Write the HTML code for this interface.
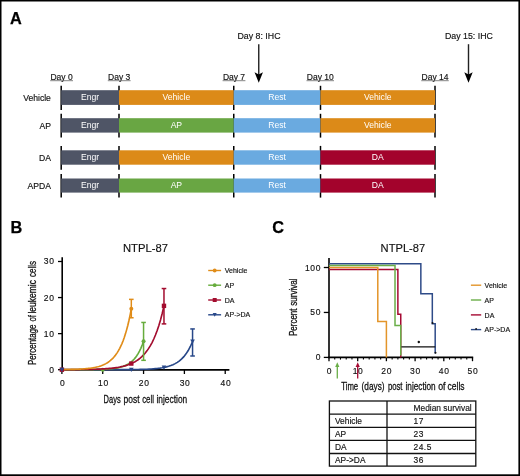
<!DOCTYPE html>
<html><head><meta charset="utf-8"><style>
html,body{margin:0;padding:0;background:#fff;}
svg{display:block;will-change:transform;}
text{font-family:"Liberation Sans", sans-serif;}
text.s{stroke:#111;stroke-width:0.15px;}
</style></head><body>
<svg width="520" height="476" viewBox="0 0 520 476" font-family='"Liberation Sans", sans-serif'>
<rect width="520" height="476" fill="#fff"/>
<text x="9.9" y="23.75" font-size="16.3" font-weight="bold" fill="#000" stroke="#000" stroke-width="0.25">A</text>
<line x1="61.2" y1="85.8" x2="61.2" y2="109.9" stroke="#000" stroke-width="1.5"/>
<line x1="119" y1="85.8" x2="119" y2="109.9" stroke="#000" stroke-width="1.5"/>
<line x1="233.75" y1="85.8" x2="233.75" y2="109.9" stroke="#000" stroke-width="1.5"/>
<line x1="320.5" y1="85.8" x2="320.5" y2="109.9" stroke="#000" stroke-width="1.5"/>
<line x1="435" y1="85.8" x2="435" y2="109.9" stroke="#000" stroke-width="1.5"/>
<rect x="61.2" y="90.2" width="57.8" height="14.700000000000003" fill="#4f5566"/>
<text x="90.1" y="100.45000000000002" font-size="8.6" fill="#fff" text-anchor="middle">Engr</text>
<rect x="119" y="90.2" width="114.75" height="14.700000000000003" fill="#dc8a18"/>
<text x="176.375" y="100.45000000000002" font-size="8.6" fill="#fff" text-anchor="middle">Vehicle</text>
<rect x="233.75" y="90.2" width="86.75" height="14.700000000000003" fill="#6aaae0"/>
<text x="277.125" y="100.45000000000002" font-size="8.6" fill="#fff" text-anchor="middle">Rest</text>
<rect x="320.5" y="90.2" width="114.5" height="14.700000000000003" fill="#dc8a18"/>
<text x="377.75" y="100.45000000000002" font-size="8.6" fill="#fff" text-anchor="middle">Vehicle</text>
<text x="50.9" y="100.65" font-size="8.6" fill="#111" class="s" text-anchor="end">Vehicle</text>
<line x1="61.2" y1="113.8" x2="61.2" y2="137.6" stroke="#000" stroke-width="1.5"/>
<line x1="119" y1="113.8" x2="119" y2="137.6" stroke="#000" stroke-width="1.5"/>
<line x1="233.75" y1="113.8" x2="233.75" y2="137.6" stroke="#000" stroke-width="1.5"/>
<line x1="320.5" y1="113.8" x2="320.5" y2="137.6" stroke="#000" stroke-width="1.5"/>
<line x1="435" y1="113.8" x2="435" y2="137.6" stroke="#000" stroke-width="1.5"/>
<rect x="61.2" y="118.2" width="57.8" height="14.399999999999991" fill="#4f5566"/>
<text x="90.1" y="128.3" font-size="8.6" fill="#fff" text-anchor="middle">Engr</text>
<rect x="119" y="118.2" width="114.75" height="14.399999999999991" fill="#69a643"/>
<text x="176.375" y="128.3" font-size="8.6" fill="#fff" text-anchor="middle">AP</text>
<rect x="233.75" y="118.2" width="86.75" height="14.399999999999991" fill="#6aaae0"/>
<text x="277.125" y="128.3" font-size="8.6" fill="#fff" text-anchor="middle">Rest</text>
<rect x="320.5" y="118.2" width="114.5" height="14.399999999999991" fill="#dc8a18"/>
<text x="377.75" y="128.3" font-size="8.6" fill="#fff" text-anchor="middle">Vehicle</text>
<text x="50.9" y="128.5" font-size="8.6" fill="#111" class="s" text-anchor="end">AP</text>
<line x1="61.2" y1="145.9" x2="61.2" y2="169.7" stroke="#000" stroke-width="1.5"/>
<line x1="119" y1="145.9" x2="119" y2="169.7" stroke="#000" stroke-width="1.5"/>
<line x1="233.75" y1="145.9" x2="233.75" y2="169.7" stroke="#000" stroke-width="1.5"/>
<line x1="320.5" y1="145.9" x2="320.5" y2="169.7" stroke="#000" stroke-width="1.5"/>
<line x1="435" y1="145.9" x2="435" y2="169.7" stroke="#000" stroke-width="1.5"/>
<rect x="61.2" y="150.3" width="57.8" height="14.399999999999977" fill="#4f5566"/>
<text x="90.1" y="160.4" font-size="8.6" fill="#fff" text-anchor="middle">Engr</text>
<rect x="119" y="150.3" width="114.75" height="14.399999999999977" fill="#dc8a18"/>
<text x="176.375" y="160.4" font-size="8.6" fill="#fff" text-anchor="middle">Vehicle</text>
<rect x="233.75" y="150.3" width="86.75" height="14.399999999999977" fill="#6aaae0"/>
<text x="277.125" y="160.4" font-size="8.6" fill="#fff" text-anchor="middle">Rest</text>
<rect x="320.5" y="150.3" width="114.5" height="14.399999999999977" fill="#a3032c"/>
<text x="377.75" y="160.4" font-size="8.6" fill="#fff" text-anchor="middle">DA</text>
<text x="50.9" y="160.6" font-size="8.6" fill="#111" class="s" text-anchor="end">DA</text>
<line x1="61.2" y1="174.1" x2="61.2" y2="197.6" stroke="#000" stroke-width="1.5"/>
<line x1="119" y1="174.1" x2="119" y2="197.6" stroke="#000" stroke-width="1.5"/>
<line x1="233.75" y1="174.1" x2="233.75" y2="197.6" stroke="#000" stroke-width="1.5"/>
<line x1="320.5" y1="174.1" x2="320.5" y2="197.6" stroke="#000" stroke-width="1.5"/>
<line x1="435" y1="174.1" x2="435" y2="197.6" stroke="#000" stroke-width="1.5"/>
<rect x="61.2" y="178.5" width="57.8" height="14.099999999999994" fill="#4f5566"/>
<text x="90.1" y="188.45000000000002" font-size="8.6" fill="#fff" text-anchor="middle">Engr</text>
<rect x="119" y="178.5" width="114.75" height="14.099999999999994" fill="#69a643"/>
<text x="176.375" y="188.45000000000002" font-size="8.6" fill="#fff" text-anchor="middle">AP</text>
<rect x="233.75" y="178.5" width="86.75" height="14.099999999999994" fill="#6aaae0"/>
<text x="277.125" y="188.45000000000002" font-size="8.6" fill="#fff" text-anchor="middle">Rest</text>
<rect x="320.5" y="178.5" width="114.5" height="14.099999999999994" fill="#a3032c"/>
<text x="377.75" y="188.45000000000002" font-size="8.6" fill="#fff" text-anchor="middle">DA</text>
<text x="50.9" y="188.65" font-size="8.6" fill="#111" class="s" text-anchor="end">APDA</text>
<text x="61.6" y="80" font-size="8.5" fill="#111" class="s" text-anchor="middle">Day 0</text>
<line x1="50.2" y1="80.7" x2="73.0" y2="80.7" stroke="#666" stroke-width="0.8"/>
<text x="119.2" y="80" font-size="8.5" fill="#111" class="s" text-anchor="middle">Day 3</text>
<line x1="107.80000000000001" y1="80.7" x2="130.60000000000002" y2="80.7" stroke="#666" stroke-width="0.8"/>
<text x="234" y="80" font-size="8.5" fill="#111" class="s" text-anchor="middle">Day 7</text>
<line x1="222.6" y1="80.7" x2="245.4" y2="80.7" stroke="#666" stroke-width="0.8"/>
<text x="320.25" y="80" font-size="8.5" fill="#111" class="s" text-anchor="middle">Day 10</text>
<line x1="306.5" y1="80.7" x2="334.0" y2="80.7" stroke="#666" stroke-width="0.8"/>
<text x="435" y="80" font-size="8.5" fill="#111" class="s" text-anchor="middle">Day 14</text>
<line x1="421.25" y1="80.7" x2="448.75" y2="80.7" stroke="#666" stroke-width="0.8"/>
<text x="259" y="38.8" font-size="8.8" fill="#111" class="s" text-anchor="middle">Day 8: IHC</text>
<text x="468.9" y="38.8" font-size="8.8" fill="#111" class="s" text-anchor="middle">Day 15: IHC</text>
<line x1="258.75" y1="44.2" x2="258.75" y2="76" stroke="#222" stroke-width="1.4"/>
<path d="M254.55,72.3 L258.75,74.6 L262.95,72.3 L258.75,82.8 Z" fill="#000"/>
<line x1="468.5" y1="44.2" x2="468.5" y2="76" stroke="#222" stroke-width="1.4"/>
<path d="M464.3,72.3 L468.5,74.6 L472.7,72.3 L468.5,82.8 Z" fill="#000"/>
<text x="10.4" y="232.8" font-size="16.3" font-weight="bold" fill="#000" stroke="#000" stroke-width="0.25">B</text>
<text x="145.5" y="251.5" font-size="11.5" fill="#111" class="s" text-anchor="middle" textLength="45" lengthAdjust="spacingAndGlyphs">NTPL-87</text>
<line x1="62.2" y1="257.2" x2="62.2" y2="370.5" stroke="#000" stroke-width="1.6"/>
<line x1="61.4" y1="369.9" x2="229.4" y2="369.9" stroke="#000" stroke-width="1.6"/>
<line x1="58" y1="369.7" x2="62.2" y2="369.7" stroke="#000" stroke-width="1.3"/>
<text x="54.6" y="372.7" font-size="8.5" letter-spacing="0.7" fill="#111" class="s" text-anchor="end">0</text>
<line x1="58" y1="333.63" x2="62.2" y2="333.63" stroke="#000" stroke-width="1.3"/>
<text x="54.6" y="336.63" font-size="8.5" letter-spacing="0.7" fill="#111" class="s" text-anchor="end">10</text>
<line x1="58" y1="297.56" x2="62.2" y2="297.56" stroke="#000" stroke-width="1.3"/>
<text x="54.6" y="300.56" font-size="8.5" letter-spacing="0.7" fill="#111" class="s" text-anchor="end">20</text>
<line x1="58" y1="261.49" x2="62.2" y2="261.49" stroke="#000" stroke-width="1.3"/>
<text x="54.6" y="264.49" font-size="8.5" letter-spacing="0.7" fill="#111" class="s" text-anchor="end">30</text>
<line x1="61.9" y1="369.9" x2="61.9" y2="374" stroke="#000" stroke-width="1.3"/>
<text x="62.6" y="385.8" font-size="8.5" letter-spacing="0.7" fill="#111" class="s" text-anchor="middle">0</text>
<line x1="102.72999999999999" y1="369.9" x2="102.72999999999999" y2="374" stroke="#000" stroke-width="1.3"/>
<text x="103.42999999999999" y="385.8" font-size="8.5" letter-spacing="0.7" fill="#111" class="s" text-anchor="middle">10</text>
<line x1="143.56" y1="369.9" x2="143.56" y2="374" stroke="#000" stroke-width="1.3"/>
<text x="144.26" y="385.8" font-size="8.5" letter-spacing="0.7" fill="#111" class="s" text-anchor="middle">20</text>
<line x1="184.39000000000001" y1="369.9" x2="184.39000000000001" y2="374" stroke="#000" stroke-width="1.3"/>
<text x="185.09" y="385.8" font-size="8.5" letter-spacing="0.7" fill="#111" class="s" text-anchor="middle">30</text>
<line x1="225.22" y1="369.9" x2="225.22" y2="374" stroke="#000" stroke-width="1.3"/>
<text x="225.92" y="385.8" font-size="8.5" letter-spacing="0.7" fill="#111" class="s" text-anchor="middle">40</text>
<text x="103.60000000000001" y="402.7" font-size="11.8" fill="#111" stroke="#111" stroke-width="0.3" textLength="17.10" lengthAdjust="spacingAndGlyphs">Days</text>
<text x="123.5" y="402.7" font-size="11.8" fill="#111" stroke="#111" stroke-width="0.3" textLength="16.00" lengthAdjust="spacingAndGlyphs">post</text>
<text x="142.2" y="402.7" font-size="11.8" fill="#111" stroke="#111" stroke-width="0.3" textLength="11.80" lengthAdjust="spacingAndGlyphs">cell</text>
<text x="156.5" y="402.7" font-size="11.8" fill="#111" stroke="#111" stroke-width="0.3" textLength="30.70" lengthAdjust="spacingAndGlyphs">injection</text>
<text transform="translate(35.8,365.0) rotate(-90)" x="0" y="0" font-size="11.3" fill="#111" stroke="#111" stroke-width="0.3" textLength="40.50" lengthAdjust="spacingAndGlyphs">Percentage</text>
<text transform="translate(35.8,321.5) rotate(-90)" x="0" y="0" font-size="11.3" fill="#111" stroke="#111" stroke-width="0.3" textLength="6.40" lengthAdjust="spacingAndGlyphs">of</text>
<text transform="translate(35.8,313.6) rotate(-90)" x="0" y="0" font-size="11.3" fill="#111" stroke="#111" stroke-width="0.3" textLength="33.60" lengthAdjust="spacingAndGlyphs">leukemic</text>
<text transform="translate(35.8,277.0) rotate(-90)" x="0" y="0" font-size="11.3" fill="#111" stroke="#111" stroke-width="0.3" textLength="16.00" lengthAdjust="spacingAndGlyphs">cells</text>
<path d="M61.90,369.70 L64.08,369.70 L66.26,369.70 L68.43,369.70 L70.61,369.70 L72.79,369.70 L74.97,369.70 L77.14,369.70 L79.32,369.70 L81.50,369.70 L83.68,369.70 L85.85,369.70 L88.03,369.70 L90.21,369.70 L92.39,369.70 L94.56,369.70 L96.74,369.69 L98.92,369.69 L101.10,369.69 L103.27,369.69 L105.45,369.69 L107.63,369.68 L109.81,369.68 L111.98,369.68 L114.16,369.67 L116.34,369.67 L118.52,369.66 L120.70,369.65 L122.87,369.64 L125.05,369.63 L127.23,369.61 L129.41,369.59 L131.58,369.57 L133.76,369.54 L135.94,369.51 L138.12,369.47 L140.29,369.42 L142.47,369.36 L144.65,369.29 L146.83,369.20 L149.00,369.10 L151.18,368.97 L153.36,368.81 L155.54,368.62 L157.71,368.40 L159.89,368.12 L162.07,367.79 L164.25,367.38 L166.42,366.89 L168.60,366.30 L170.78,365.58 L172.96,364.70 L175.14,363.64 L177.31,362.36 L179.49,360.81 L181.67,358.93 L183.85,356.65 L186.02,353.88 L188.20,350.54 L190.38,346.48 L192.56,341.57" fill="none" stroke="#284889" stroke-width="1.65"/>
<path d="M61.90,369.69 L63.26,369.69 L64.62,369.69 L65.98,369.69 L67.34,369.69 L68.70,369.69 L70.07,369.69 L71.43,369.69 L72.79,369.68 L74.15,369.68 L75.51,369.68 L76.87,369.67 L78.23,369.67 L79.59,369.67 L80.95,369.66 L82.31,369.65 L83.68,369.65 L85.04,369.64 L86.40,369.63 L87.76,369.62 L89.12,369.61 L90.48,369.59 L91.84,369.58 L93.20,369.56 L94.56,369.54 L95.93,369.51 L97.29,369.48 L98.65,369.45 L100.01,369.41 L101.37,369.36 L102.73,369.31 L104.09,369.25 L105.45,369.19 L106.81,369.11 L108.17,369.01 L109.53,368.91 L110.90,368.79 L112.26,368.65 L113.62,368.48 L114.98,368.30 L116.34,368.08 L117.70,367.83 L119.06,367.54 L120.42,367.21 L121.78,366.82 L123.15,366.38 L124.51,365.87 L125.87,365.28 L127.23,364.60 L128.59,363.81 L129.95,362.90 L131.31,361.86 L132.67,360.65 L134.03,359.25 L135.39,357.64 L136.75,355.78 L138.12,353.64 L139.48,351.16 L140.84,348.31 L142.20,345.01 L143.56,341.20" fill="none" stroke="#66ac3c" stroke-width="1.65"/>
<circle cx="102.72999999999999" cy="369.7" r="2" fill="#66ac3c"/>
<path d="M61.90,369.66 L63.60,369.65 L65.30,369.65 L67.00,369.64 L68.70,369.63 L70.41,369.62 L72.11,369.61 L73.81,369.60 L75.51,369.59 L77.21,369.57 L78.91,369.56 L80.61,369.54 L82.31,369.52 L84.02,369.49 L85.72,369.47 L87.42,369.44 L89.12,369.40 L90.82,369.36 L92.52,369.32 L94.22,369.27 L95.93,369.22 L97.63,369.15 L99.33,369.08 L101.03,369.00 L102.73,368.91 L104.43,368.81 L106.13,368.69 L107.83,368.56 L109.53,368.42 L111.24,368.25 L112.94,368.06 L114.64,367.85 L116.34,367.61 L118.04,367.34 L119.74,367.03 L121.44,366.68 L123.15,366.29 L124.85,365.85 L126.55,365.35 L128.25,364.78 L129.95,364.14 L131.65,363.42 L133.35,362.61 L135.05,361.69 L136.75,360.65 L138.46,359.47 L140.16,358.14 L141.86,356.64 L143.56,354.95 L145.26,353.03 L146.96,350.87 L148.66,348.42 L150.37,345.66 L152.07,342.54 L153.77,339.01 L155.47,335.02 L157.17,330.52 L158.87,325.44 L160.57,319.69 L162.27,313.19 L163.97,305.86" fill="none" stroke="#a30c2e" stroke-width="1.65"/>
<path d="M61.90,369.59 L63.06,369.57 L64.21,369.56 L65.37,369.55 L66.53,369.53 L67.68,369.51 L68.84,369.49 L70.00,369.46 L71.15,369.44 L72.31,369.41 L73.47,369.38 L74.63,369.34 L75.78,369.30 L76.94,369.26 L78.10,369.21 L79.25,369.16 L80.41,369.09 L81.57,369.03 L82.72,368.95 L83.88,368.87 L85.04,368.78 L86.19,368.68 L87.35,368.57 L88.51,368.44 L89.66,368.30 L90.82,368.15 L91.98,367.97 L93.13,367.78 L94.29,367.57 L95.45,367.34 L96.61,367.07 L97.76,366.78 L98.92,366.46 L100.08,366.10 L101.23,365.71 L102.39,365.27 L103.55,364.78 L104.70,364.23 L105.86,363.63 L107.02,362.96 L108.17,362.21 L109.33,361.38 L110.49,360.46 L111.64,359.44 L112.80,358.31 L113.96,357.05 L115.12,355.65 L116.27,354.10 L117.43,352.37 L118.59,350.46 L119.74,348.33 L120.90,345.97 L122.06,343.35 L123.21,340.44 L124.37,337.20 L125.53,333.61 L126.68,329.62 L127.84,325.19 L129.00,320.27 L130.15,314.81 L131.31,308.74" fill="none" stroke="#e08c18" stroke-width="1.65"/>
<line x1="192.556" y1="355.9934" x2="192.556" y2="328.9409" stroke="#284889" stroke-width="1.5"/><line x1="190.256" y1="355.9934" x2="194.85600000000002" y2="355.9934" stroke="#284889" stroke-width="1.5"/><line x1="190.256" y1="328.9409" x2="194.85600000000002" y2="328.9409" stroke="#284889" stroke-width="1.5"/>
<line x1="163.975" y1="323.8911" x2="163.975" y2="288.5425" stroke="#a30c2e" stroke-width="1.5"/><line x1="161.67499999999998" y1="323.8911" x2="166.275" y2="323.8911" stroke="#a30c2e" stroke-width="1.5"/><line x1="161.67499999999998" y1="288.5425" x2="166.275" y2="288.5425" stroke="#a30c2e" stroke-width="1.5"/>
<line x1="143.56" y1="360.3218" x2="143.56" y2="322.4483" stroke="#66ac3c" stroke-width="1.5"/><line x1="141.26" y1="360.3218" x2="145.86" y2="360.3218" stroke="#66ac3c" stroke-width="1.5"/><line x1="141.26" y1="322.4483" x2="145.86" y2="322.4483" stroke="#66ac3c" stroke-width="1.5"/>
<line x1="131.311" y1="317.75919999999996" x2="131.311" y2="299.3635" stroke="#e08c18" stroke-width="1.5"/><line x1="129.011" y1="317.75919999999996" x2="133.61100000000002" y2="317.75919999999996" stroke="#e08c18" stroke-width="1.5"/><line x1="129.011" y1="299.3635" x2="133.61100000000002" y2="299.3635" stroke="#e08c18" stroke-width="1.5"/>
<circle cx="131.311" cy="308.7417" r="2" fill="#e08c18"/>
<circle cx="143.56" cy="341.2047" r="2" fill="#66ac3c"/>
<rect x="59.699999999999996" y="367.5" width="4.4" height="4.4" fill="#a30c2e"/>
<rect x="129.11100000000002" y="361.3681" width="4.4" height="4.4" fill="#a30c2e"/>
<rect x="161.775" y="303.6561" width="4.4" height="4.4" fill="#a30c2e"/>
<path d="M59.6,367.7 L64.2,367.7 L61.9,371.9 Z" fill="#284889"/>
<path d="M129.011,367.7 L133.61100000000002,367.7 L131.311,371.9 Z" fill="#284889"/>
<path d="M161.67499999999998,365.42759 L166.275,365.42759 L163.975,369.62759 Z" fill="#284889"/>
<path d="M190.256,339.5654 L194.85600000000002,339.5654 L192.556,343.7654 Z" fill="#284889"/>
<line x1="208.2" y1="270.5" x2="221.1" y2="270.5" stroke="#e08c18" stroke-width="1.4"/>
<circle cx="214.7" cy="270.5" r="1.9" fill="#e08c18"/>
<text x="224.8" y="273.1" font-size="7" fill="#111" class="s">Vehicle</text>
<line x1="208.2" y1="285.2" x2="221.1" y2="285.2" stroke="#66ac3c" stroke-width="1.4"/>
<circle cx="214.7" cy="285.2" r="1.9" fill="#66ac3c"/>
<text x="224.8" y="287.8" font-size="7" fill="#111" class="s">AP</text>
<line x1="208.2" y1="300" x2="221.1" y2="300" stroke="#a30c2e" stroke-width="1.4"/>
<rect x="212.7" y="298" width="4" height="4" fill="#a30c2e"/>
<text x="224.8" y="302.6" font-size="7" fill="#111" class="s">DA</text>
<line x1="208.2" y1="314.8" x2="221.1" y2="314.8" stroke="#284889" stroke-width="1.4"/>
<path d="M212.7,313.0 L216.7,313.0 L214.7,316.8 Z" fill="#284889"/>
<text x="224.8" y="317.40000000000003" font-size="7" fill="#111" class="s">AP-&gt;DA</text>
<text x="272.3" y="232.8" font-size="16.3" font-weight="bold" fill="#000" stroke="#000" stroke-width="0.25">C</text>
<text x="402.9" y="251.5" font-size="11.5" fill="#111" class="s" text-anchor="middle" textLength="44.6" lengthAdjust="spacingAndGlyphs">NTPL-87</text>
<line x1="329" y1="257.9" x2="329" y2="358.2" stroke="#000" stroke-width="1.6"/>
<line x1="328.2" y1="357.4" x2="473.2" y2="357.4" stroke="#000" stroke-width="1.6"/>
<line x1="323.8" y1="357.4" x2="329" y2="357.4" stroke="#000" stroke-width="1.3"/>
<text x="321.2" y="360.4" font-size="8.5" letter-spacing="0.7" fill="#111" class="s" text-anchor="end">0</text>
<line x1="323.8" y1="312.45" x2="329" y2="312.45" stroke="#000" stroke-width="1.3"/>
<text x="321.2" y="315.45" font-size="8.5" letter-spacing="0.7" fill="#111" class="s" text-anchor="end">50</text>
<line x1="323.8" y1="267.5" x2="329" y2="267.5" stroke="#000" stroke-width="1.3"/>
<text x="321.2" y="270.5" font-size="8.5" letter-spacing="0.7" fill="#111" class="s" text-anchor="end">100</text>
<line x1="329.0" y1="357.4" x2="329.0" y2="361.2" stroke="#000" stroke-width="1.3"/>
<text x="329.4" y="374" font-size="8.5" letter-spacing="0.7" fill="#111" class="s" text-anchor="middle">0</text>
<line x1="334.74" y1="357.4" x2="334.74" y2="359.6" stroke="#000" stroke-width="1.1"/>
<line x1="340.48" y1="357.4" x2="340.48" y2="359.6" stroke="#000" stroke-width="1.1"/>
<line x1="346.22" y1="357.4" x2="346.22" y2="359.6" stroke="#000" stroke-width="1.1"/>
<line x1="351.96" y1="357.4" x2="351.96" y2="359.6" stroke="#000" stroke-width="1.1"/>
<line x1="357.7" y1="357.4" x2="357.7" y2="361.2" stroke="#000" stroke-width="1.3"/>
<text x="358.09999999999997" y="374" font-size="8.5" letter-spacing="0.7" fill="#111" class="s" text-anchor="middle">10</text>
<line x1="363.44" y1="357.4" x2="363.44" y2="359.6" stroke="#000" stroke-width="1.1"/>
<line x1="369.18" y1="357.4" x2="369.18" y2="359.6" stroke="#000" stroke-width="1.1"/>
<line x1="374.92" y1="357.4" x2="374.92" y2="359.6" stroke="#000" stroke-width="1.1"/>
<line x1="380.66" y1="357.4" x2="380.66" y2="359.6" stroke="#000" stroke-width="1.1"/>
<line x1="386.4" y1="357.4" x2="386.4" y2="361.2" stroke="#000" stroke-width="1.3"/>
<text x="386.79999999999995" y="374" font-size="8.5" letter-spacing="0.7" fill="#111" class="s" text-anchor="middle">20</text>
<line x1="392.14" y1="357.4" x2="392.14" y2="359.6" stroke="#000" stroke-width="1.1"/>
<line x1="397.88" y1="357.4" x2="397.88" y2="359.6" stroke="#000" stroke-width="1.1"/>
<line x1="403.62" y1="357.4" x2="403.62" y2="359.6" stroke="#000" stroke-width="1.1"/>
<line x1="409.36" y1="357.4" x2="409.36" y2="359.6" stroke="#000" stroke-width="1.1"/>
<line x1="415.1" y1="357.4" x2="415.1" y2="361.2" stroke="#000" stroke-width="1.3"/>
<text x="415.5" y="374" font-size="8.5" letter-spacing="0.7" fill="#111" class="s" text-anchor="middle">30</text>
<line x1="420.84000000000003" y1="357.4" x2="420.84000000000003" y2="359.6" stroke="#000" stroke-width="1.1"/>
<line x1="426.58" y1="357.4" x2="426.58" y2="359.6" stroke="#000" stroke-width="1.1"/>
<line x1="432.32" y1="357.4" x2="432.32" y2="359.6" stroke="#000" stroke-width="1.1"/>
<line x1="438.06" y1="357.4" x2="438.06" y2="359.6" stroke="#000" stroke-width="1.1"/>
<line x1="443.8" y1="357.4" x2="443.8" y2="361.2" stroke="#000" stroke-width="1.3"/>
<text x="444.2" y="374" font-size="8.5" letter-spacing="0.7" fill="#111" class="s" text-anchor="middle">40</text>
<line x1="449.54" y1="357.4" x2="449.54" y2="359.6" stroke="#000" stroke-width="1.1"/>
<line x1="455.28" y1="357.4" x2="455.28" y2="359.6" stroke="#000" stroke-width="1.1"/>
<line x1="461.02" y1="357.4" x2="461.02" y2="359.6" stroke="#000" stroke-width="1.1"/>
<line x1="466.76" y1="357.4" x2="466.76" y2="359.6" stroke="#000" stroke-width="1.1"/>
<line x1="472.5" y1="357.4" x2="472.5" y2="361.2" stroke="#000" stroke-width="1.3"/>
<text x="472.9" y="374" font-size="8.5" letter-spacing="0.7" fill="#111" class="s" text-anchor="middle">50</text>
<text x="341.2" y="390.3" font-size="11.6" fill="#111" stroke="#111" stroke-width="0.3" textLength="17.00" lengthAdjust="spacingAndGlyphs">Time</text>
<text x="361.59999999999997" y="390.3" font-size="11.6" fill="#111" stroke="#111" stroke-width="0.3" textLength="22.90" lengthAdjust="spacingAndGlyphs">(days)</text>
<text x="387.9" y="390.3" font-size="11.6" fill="#111" stroke="#111" stroke-width="0.3" textLength="14.60" lengthAdjust="spacingAndGlyphs">post</text>
<text x="405.5" y="390.3" font-size="11.6" fill="#111" stroke="#111" stroke-width="0.3" textLength="30.20" lengthAdjust="spacingAndGlyphs">injection</text>
<text x="438.2" y="390.3" font-size="11.6" fill="#111" stroke="#111" stroke-width="0.3" textLength="7.30" lengthAdjust="spacingAndGlyphs">of</text>
<text x="447.59999999999997" y="390.3" font-size="11.6" fill="#111" stroke="#111" stroke-width="0.3" textLength="17.00" lengthAdjust="spacingAndGlyphs">cells</text>
<text transform="translate(297.4,336.0) rotate(-90)" x="0" y="0" font-size="11.1" fill="#111" stroke="#111" stroke-width="0.3" textLength="27.50" lengthAdjust="spacingAndGlyphs">Percent</text>
<text transform="translate(297.4,305.8) rotate(-90)" x="0" y="0" font-size="11.1" fill="#111" stroke="#111" stroke-width="0.3" textLength="27.30" lengthAdjust="spacingAndGlyphs">survival</text>
<path d="M329.00,263.70 L420.84,263.70 L420.84,293.67 L432.32,293.67 L432.32,323.63 L435.19,323.63 L435.19,353.60" fill="none" stroke="#2e4b88" stroke-width="1.5"/>
<path d="M329.00,269.40 L397.88,269.40 L397.88,314.35 L400.75,314.35 L400.75,357.40" fill="none" stroke="#a50a33" stroke-width="1.5"/>
<path d="M329.00,265.60 L395.01,265.60 L395.01,325.53 L400.75,325.53 L400.75,355.50" fill="none" stroke="#6aae48" stroke-width="1.5"/>
<path d="M329.00,267.50 L377.79,267.50 L377.79,321.44 L386.40,321.44 L386.40,357.40" fill="none" stroke="#e3952a" stroke-width="1.5"/>
<line x1="401.4" y1="346.8" x2="435.3" y2="346.8" stroke="#111" stroke-width="1.3"/>
<circle cx="418.8" cy="342" r="1.2" fill="#111"/>
<circle cx="432.5" cy="322.9" r="1" fill="#111"/>
<circle cx="435.5" cy="352.8" r="1" fill="#111"/>
<line x1="337.3" y1="366" x2="337.3" y2="378.6" stroke="#6aae48" stroke-width="1.3"/>
<path d="M335.2,367 L339.40000000000003,367 L337.3,362.2 Z" fill="#6aae48"/>
<line x1="357.7" y1="366" x2="357.7" y2="378.6" stroke="#a50a33" stroke-width="1.3"/>
<path d="M355.59999999999997,367 L359.8,367 L357.7,362.2 Z" fill="#a50a33"/>
<line x1="470.9" y1="285.2" x2="481.2" y2="285.2" stroke="#e3952a" stroke-width="1.4"/>
<text x="484.6" y="287.9" font-size="7" fill="#111" class="s">Vehicle</text>
<line x1="470.9" y1="300" x2="481.2" y2="300" stroke="#6aae48" stroke-width="1.4"/>
<text x="484.6" y="302.7" font-size="7" fill="#111" class="s">AP</text>
<line x1="470.9" y1="314.9" x2="481.2" y2="314.9" stroke="#a50a33" stroke-width="1.4"/>
<text x="484.6" y="317.59999999999997" font-size="7" fill="#111" class="s">DA</text>
<line x1="470.9" y1="329.6" x2="481.2" y2="329.6" stroke="#2e4b88" stroke-width="1.4"/>
<text x="484.6" y="332.3" font-size="7" fill="#111" class="s">AP-&gt;DA</text>
<circle cx="476.1" cy="328.9" r="0.9" fill="#111"/>
<rect x="329.4" y="401" width="146.40000000000003" height="65.10000000000002" fill="none" stroke="#111" stroke-width="1.3"/>
<line x1="329.4" y1="414.1" x2="475.8" y2="414.1" stroke="#111" stroke-width="1.3"/>
<line x1="329.4" y1="427.3" x2="475.8" y2="427.3" stroke="#111" stroke-width="1.3"/>
<line x1="329.4" y1="440.4" x2="475.8" y2="440.4" stroke="#111" stroke-width="1.3"/>
<line x1="329.4" y1="453.5" x2="475.8" y2="453.5" stroke="#111" stroke-width="1.3"/>
<line x1="387.0" y1="401" x2="387.0" y2="466.1" stroke="#111" stroke-width="1.3"/>
<text x="413.5" y="410.6" font-size="8.4" fill="#111" class="s">Median survival</text>
<text x="335" y="423.70000000000005" font-size="8.4" fill="#111" class="s">Vehicle</text>
<text x="413.5" y="423.70000000000005" font-size="8.4" letter-spacing="0.5" fill="#111" class="s">17</text>
<text x="335" y="436.90000000000003" font-size="8.4" fill="#111" class="s">AP</text>
<text x="413.5" y="436.90000000000003" font-size="8.4" letter-spacing="0.5" fill="#111" class="s">23</text>
<text x="335" y="450.0" font-size="8.4" fill="#111" class="s">DA</text>
<text x="413.5" y="450.0" font-size="8.4" letter-spacing="0.5" fill="#111" class="s">24.5</text>
<text x="335" y="463.1" font-size="8.4" fill="#111" class="s">AP-&gt;DA</text>
<text x="413.5" y="463.1" font-size="8.4" letter-spacing="0.5" fill="#111" class="s">36</text>
<rect x="0" y="0" width="520" height="1.5" fill="#000"/>
<rect x="0" y="0" width="1.5" height="476" fill="#000"/>
<rect x="518.4" y="0" width="1.6" height="476" fill="#000"/>
<rect x="0" y="474.3" width="520" height="1.7" fill="#000"/>
</svg>
</body></html>
